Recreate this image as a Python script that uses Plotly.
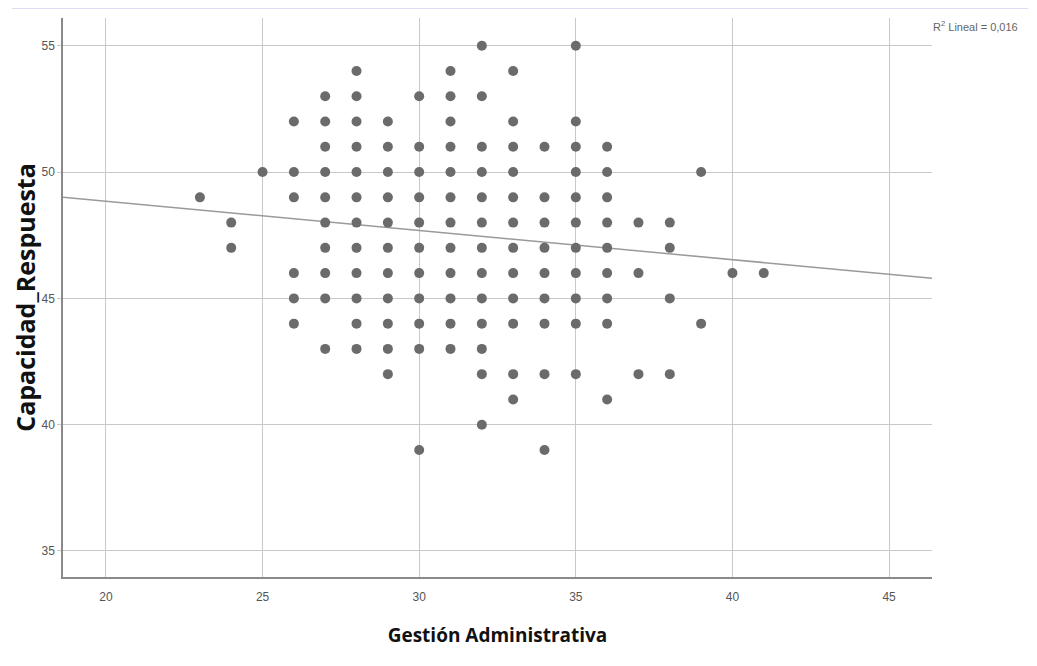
import plotly.graph_objects as go

# Gestión Administrativa value -> list of Capacidad_Respuesta values observed
gestion = [23, 24, 25, 26, 27, 28, 29, 30, 31, 32, 33, 34, 35, 36, 37, 38, 39, 40, 41]
capacidad = [
    [49],
    [48, 47],
    [50],
    [52, 50, 49, 46, 45, 44],
    [53, 52, 51, 50, 49, 48, 47, 46, 45, 43],
    [54, 53, 52, 51, 50, 49, 48, 47, 46, 45, 44, 43],
    [52, 51, 50, 49, 48, 47, 46, 45, 44, 43, 42],
    [53, 51, 50, 49, 48, 47, 46, 45, 44, 43, 39],
    [54, 53, 52, 51, 50, 49, 48, 47, 46, 45, 44, 43],
    [55, 53, 51, 50, 49, 48, 47, 46, 45, 44, 43, 42, 40],
    [54, 52, 51, 50, 49, 48, 47, 46, 45, 44, 42, 41],
    [51, 49, 48, 47, 46, 45, 44, 42, 39],
    [55, 52, 51, 50, 49, 48, 47, 46, 45, 44, 42],
    [51, 50, 49, 48, 47, 46, 45, 44, 41],
    [48, 46, 42],
    [48, 47, 45, 42],
    [50, 44],
    [46],
    [46],
]

fit_intercept = 51.16
fit_slope = -0.1157
r2_label = "R<sup>2</sup> Lineal = 0,016"

x_range = [18.63, 46.37]
y_range = [33.97, 56.1]
x_ticks = [20, 25, 30, 35, 40, 45]
y_ticks = [35, 40, 45, 50, 55]

xs, ys = [], []
for g, vals in zip(gestion, capacidad):
    for v in vals:
        xs.append(g)
        ys.append(v)

fig = go.Figure()
fig.add_trace(go.Scatter(
    x=[x_range[0], x_range[1]],
    y=[fit_intercept + fit_slope * x_range[0], fit_intercept + fit_slope * x_range[1]],
    mode="lines", line=dict(color="#9a9a9a", width=1.5), hoverinfo="skip", showlegend=False,
))
fig.add_trace(go.Scatter(
    x=xs, y=ys, mode="markers",
    marker=dict(size=10, color="#6b6b6b", line=dict(width=0)),
    showlegend=False,
))

tick_font = dict(family="Liberation Sans Narrow, Liberation Sans, sans-serif", size=12, color="#555555")
x_title_font = dict(family="Open Sans, sans-serif", size=19, color="#111111")
y_title_font = dict(family="Open Sans, sans-serif", size=25, color="#111111")

fig.update_layout(
    width=1021, height=650,
    margin=dict(l=55, r=97, t=10, b=81),
    paper_bgcolor="white", plot_bgcolor="white",
    xaxis=dict(
        range=x_range, tickvals=x_ticks, showgrid=True, gridcolor="#c8c8c8", gridwidth=1,
        zeroline=False, showline=True, linecolor="#8a8a8a", linewidth=1.5, automargin=False,
        ticks="", tickfont=tick_font, ticklabelstandoff=8,
        title=dict(text="<b>Gestión Administrativa</b>", font=x_title_font, standoff=26),
    ),
    yaxis=dict(
        range=y_range, tickvals=y_ticks, showgrid=True, gridcolor="#c8c8c8", gridwidth=1,
        zeroline=False, showline=True, linecolor="#8a8a8a", linewidth=1.5, automargin=False,
        ticks="outside", ticklen=4, tickcolor="#c8c8c8", tickfont=tick_font,
        title=dict(text="<b>Capacidad_Respuesta</b>", font=y_title_font, standoff=9),
    ),
    annotations=[dict(
        text=r2_label, xref="paper", yref="paper", x=0.999, y=0.985,
        xanchor="left", yanchor="middle", showarrow=False,
        font=dict(family="Liberation Sans Narrow, Liberation Sans, sans-serif", size=11, color="#666666"),
    )],
    shapes=[dict(
        type="line", xref="paper", yref="paper", x0=-0.059, x1=1.111, y0=1.018, y1=1.018,
        line=dict(color="#dcdcf4", width=2),
    )],
)

fig.write_html("out.html")
